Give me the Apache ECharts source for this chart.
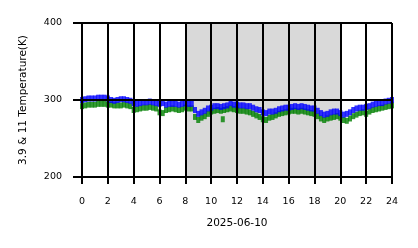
<!DOCTYPE html>
<html>
<head>
<meta charset="utf-8">
<script src="https://cdn.jsdelivr.net/npm/echarts@6/dist/echarts.min.js"></script>
<style>html,body{margin:0;padding:0;background:#fff}#c{width:418px;height:248px}</style>
</head>
<body>
<div id="c"></div>
<script>
// hours of day (15-minute steps)
var hours = [];
for (var i = 0; i <= 96; i++) hours.push(i / 4);

var xTicks = [0,2,4,6,8,10,12,14,16,18,20,22,24];
var yTicks = [200,300,400];
var dateLabel = '2025-06-10';
var yName = '3.9 & 11 Temperature(K)';
var shadeStart = 8, shadeEnd = 20;

// 3.9 um brightness temperature (K)
var temp39 = [
 300,301,302,302, 302,303,303,303, 302,300,299,300, 301,301,300,299,
 296,295,296,297, 297,298,297,296, 295,296,294,295, 295,295,294,295,
 296,295,295,287, 282,284,286,289, 290,292,292,291, 292,293,296,294,
 294,293,293,292, 292,290,288,287, 284,283,285,285, 286,288,289,290,
 290,291,292,291, 292,291,290,289, 289,286,283,281, 282,284,285,285,
 283,281,282,284, 287,289,290,290, 291,292,294,295, 296,296,298,299,
 300
];
// 11 um brightness temperature (K)
var temp11 = [
 292,293,294,294, 294,295,295,295, 294,294,293,293, 293,294,293,292,
 287,288,289,290, 290,291,290,289, 284,283,287,288, 289,288,287,288,
 290,289,289,278, 274,277,279,282, 285,286,287,286, 287,288,289,288,
 287,286,286,285, 284,282,280,278, 275,274,277,278, 280,282,283,284,
 285,286,286,285, 286,285,284,283, 282,279,276,274, 276,277,278,279,
 277,274,273,276, 279,281,283,284, 282,285,287,288, 289,290,291,292,
 293
];
var extra11Hours = [10.9];
var extra11Vals = [275];

function pairs(xs, ys){ var o=[]; for (var i=0;i<ys.length;i++) o.push([xs[i], ys[i]]); return o; }

var chart = echarts.init(document.getElementById('c'), null, {renderer:'canvas'});
var font = 'DejaVu Sans';
chart.setOption({
  animation: false,
  grid: {left: 82, right: 26, top: 23, bottom: 71, containLabel: false},
  xAxis: {
    type: 'value', min: 0, max: 24, interval: 2, z: 10,
    name: dateLabel, nameLocation: 'middle', nameGap: 41,
    nameTextStyle: {fontFamily: font, fontSize: 10.5, color: '#000'},
    axisLine: {show: true, lineStyle: {color: '#000', width: 2}},
    axisTick: {show: true, length: 7, lineStyle: {color: '#000', width: 2}},
    axisLabel: {margin: 20, fontFamily: font, fontSize: 9.5, color: '#000'},
    splitLine: {show: true, lineStyle: {color: '#000', width: 2}}
  },
  yAxis: {
    type: 'value', min: 200, max: 400, interval: 100, z: 10,
    name: yName, nameLocation: 'middle', nameGap: 53,
    nameTextStyle: {fontFamily: font, fontSize: 10.5, color: '#000'},
    axisLine: {show: false},
    axisTick: {show: true, length: 9, lineStyle: {color: '#000', width: 2}},
    axisLabel: {margin: 20, fontFamily: font, fontSize: 9.5, color: '#000'},
    splitLine: {show: true, lineStyle: {color: '#000', width: 2}}
  },
  series: [
    {
      type: 'scatter', name: '11', symbol: 'rect', symbolSize: [4, 6],
      itemStyle: {color: '#008000'},
      data: pairs(hours, temp11).concat(pairs(extra11Hours, extra11Vals)),
      markArea: {
        silent: true,
        itemStyle: {color: '#d9d9d9'},
        data: [[{xAxis: shadeStart}, {xAxis: shadeEnd}]]
      },
      z: 2
    },
    {
      type: 'scatter', name: '3.9', symbol: 'rect', symbolSize: [4, 6],
      itemStyle: {color: '#0000ff'},
      data: pairs(hours, temp39),
      z: 3
    }
  ]
});
</script>
</body>
</html>
